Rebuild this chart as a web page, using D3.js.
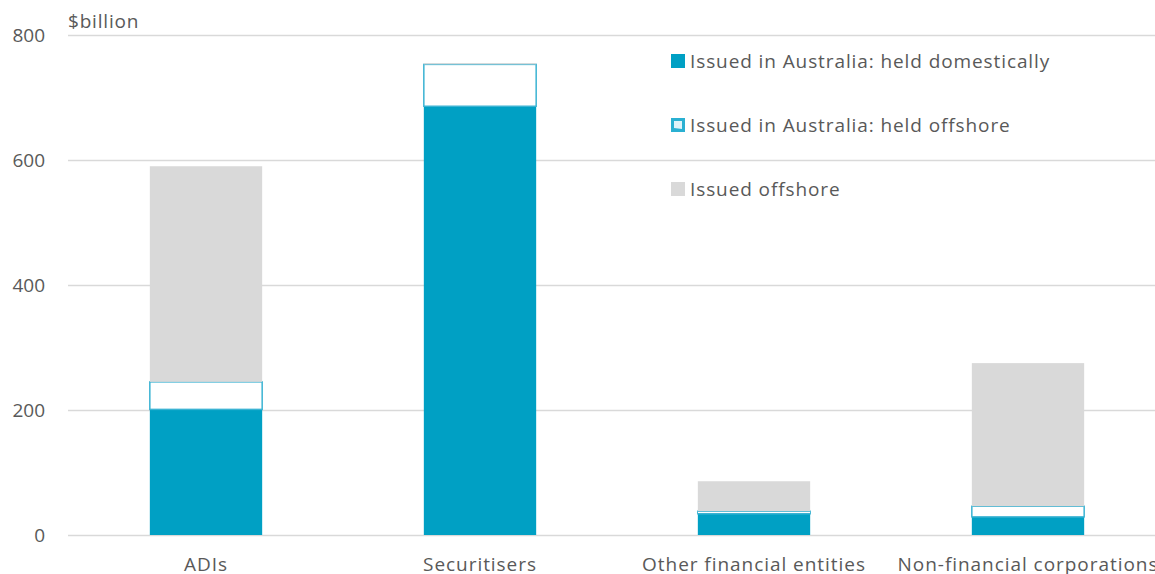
<!DOCTYPE html>
<html>
<head>
<meta charset="utf-8">
<script src="https://cdn.jsdelivr.net/npm/d3@7"></script>
<style>
  body { margin: 0; background: #fff; }
  svg text { font-family: "Open Sans", sans-serif; fill: #595959; }
</style>
</head>
<body>
<div id="chart"></div>
<script>
// categories and series ($billion)
var categories = ["ADIs", "Securitisers", "Other financial entities", "Non-financial corporations"];
var heldDomestically = [201, 686, 34, 29];
var heldOffshore = [44, 67, 4, 17];
var issuedOffshore = [345, 2, 48, 229];
var yTicks = [0, 200, 400, 600, 800];
var seriesNames = ["Issued in Australia: held domestically", "Issued in Australia: held offshore", "Issued offshore"];

var width = 1155, height = 574;
var blue = "#00A0C4", grey = "#D9D9D9";

var svg = d3.select("#chart")
  .append("svg")
    .attr("width", width)
    .attr("height", height);

// scales
var x = d3.scaleBand()
  .domain(categories)
  .range([69, 1165])
  .paddingInner(0.59)
  .paddingOuter(0.295);

var y = d3.scaleLinear()
  .domain([0, 800])
  .range([535, 35]);

// gridlines + y labels
var yAxis = svg.append("g")
  .attr("transform", "translate(68,0)")
  .call(d3.axisLeft(y).tickValues(yTicks).tickSize(-(width - 68)).tickPadding(23));
yAxis.select(".domain").remove();
yAxis.selectAll(".tick line").attr("stroke", "#d9d9d9").attr("stroke-width", 1.5);
yAxis.selectAll(".tick text").attr("font-size", 19).attr("fill", "#595959")
  .style("font-family", "'Open Sans', sans-serif");

svg.append("text")
  .attr("x", 68).attr("y", 28)
  .attr("font-size", 19)
  .attr("letter-spacing", 0.8)
  .text("$billion");

// stack the series
var rows = categories.map(function(c, i) {
  return { cat: c, dom: heldDomestically[i], off: heldOffshore[i], iss: issuedOffshore[i] };
});
var stack = d3.stack().keys(["dom", "off", "iss"])(rows);

var fills = { dom: blue, off: "#ffffff", iss: grey };

stack.forEach(function(layer) {
  svg.append("g")
    .selectAll("rect")
    .data(layer)
    .enter()
    .append("rect")
      .attr("x", function(d) { return x(d.data.cat); })
      .attr("width", x.bandwidth())
      .attr("y", function(d) { return y(d[1]); })
      .attr("height", function(d) { return y(d[0]) - y(d[1]); })
      .attr("fill", fills[layer.key])
      .attr("stroke", layer.key == "off" ? "#3BB3D3" : "none")
      .attr("stroke-width", layer.key == "off" ? 1.5 : 0);
});

// x labels
svg.append("g")
  .selectAll("text")
  .data(categories)
  .enter()
  .append("text")
    .attr("x", function(d) { return x(d) + x.bandwidth() / 2; })
    .attr("y", 571)
    .attr("text-anchor", "middle")
    .attr("font-size", 19)
    .attr("letter-spacing", 0.95)
    .text(function(d) { return d; });

// legend
var legend = svg.append("g").attr("transform", "translate(671,0)");
var legendY = [61, 125, 189];
seriesNames.forEach(function(name, i) {
  var row = legend.append("g").attr("transform", "translate(0," + legendY[i] + ")");
  if (i == 1) {
    row.append("rect").attr("x", 0).attr("y", -7).attr("width", 14).attr("height", 14)
      .attr("fill", "#2AB0D2");
    row.append("path").attr("d", "M3,10 L3,3 L11,3 L11,11 Z")
      .attr("fill", "#dff3f9").attr("stroke", "none")
      .attr("transform", "translate(0,-7)");
  } else {
    row.append("rect").attr("x", 0).attr("y", -7).attr("width", 14).attr("height", 14)
      .attr("fill", i == 0 ? blue : grey);
  }
  row.append("text")
    .attr("x", 19).attr("y", 7)
    .attr("font-size", 19)
    .attr("letter-spacing", 0.9)
    .text(name);
});
</script>
</body>
</html>
